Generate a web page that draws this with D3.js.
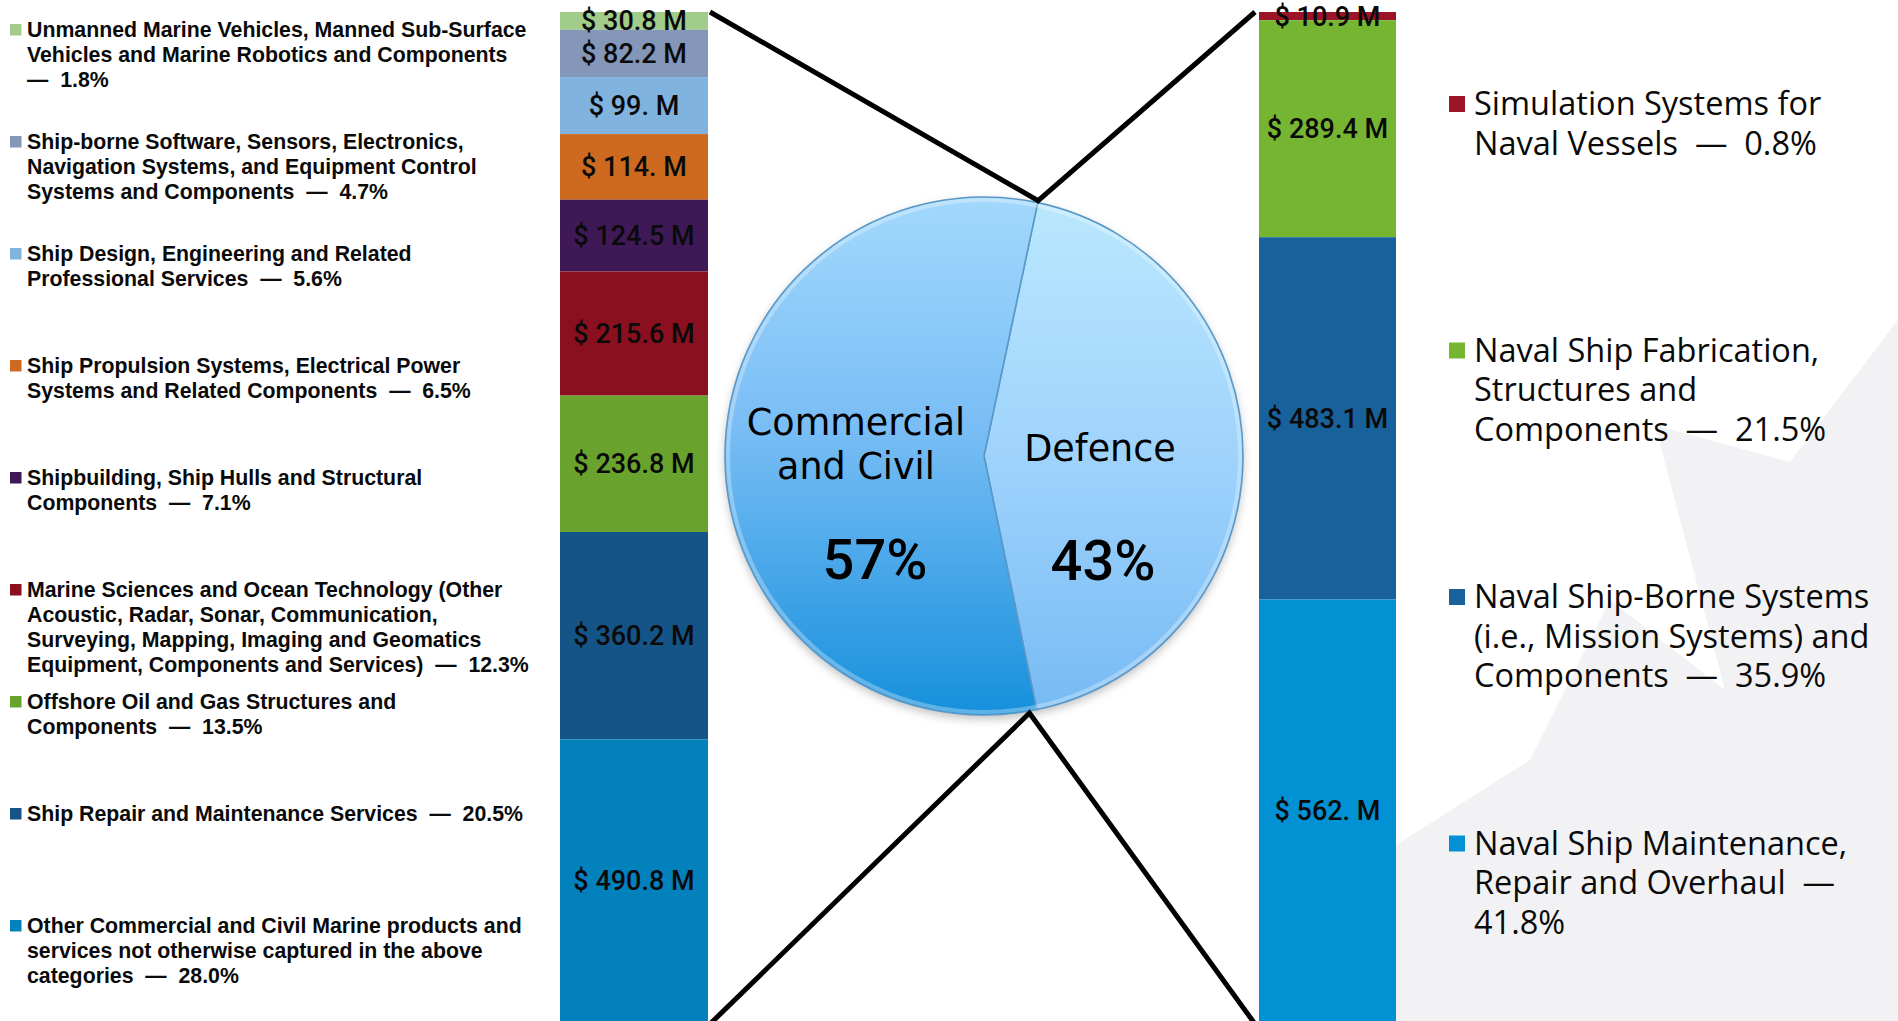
<!DOCTYPE html>
<html>
<head>
<meta charset="utf-8">
<script src="https://cdn.jsdelivr.net/npm/d3@7"></script>
<style>
  html, body { margin: 0; padding: 0; background: #ffffff; }
  svg { display: block; }
  text { white-space: pre; }
</style>
</head>
<body>
<svg id="chart" width="1898" height="1021"></svg>
<script>
// ---------------- DATA ----------------
const leftCategories = [
  ["Unmanned Marine Vehicles, Manned Sub-Surface", "Vehicles and Marine Robotics and Components", "—  {p}"],
  ["Ship-borne Software, Sensors, Electronics,", "Navigation Systems, and Equipment Control", "Systems and Components  —  {p}"],
  ["Ship Design, Engineering and Related", "Professional Services  —  {p}"],
  ["Ship Propulsion Systems, Electrical Power", "Systems and Related Components  —  {p}"],
  ["Shipbuilding, Ship Hulls and Structural", "Components  —  {p}"],
  ["Marine Sciences and Ocean Technology (Other", "Acoustic, Radar, Sonar, Communication,", "Surveying, Mapping, Imaging and Geomatics", "Equipment, Components and Services)  —  {p}"],
  ["Offshore Oil and Gas Structures and", "Components  —  {p}"],
  ["Ship Repair and Maintenance Services  —  {p}"],
  ["Other Commercial and Civil Marine products and", "services not otherwise captured in the above", "categories  —  {p}"]
];
const leftValues = [30.8, 82.2, 99.0, 114.0, 124.5, 215.6, 236.8, 360.2, 490.8];
const leftColors = ["#a2cc89", "#8497b8", "#80b3de", "#cd6a1f", "#3e1956", "#8a1020", "#69a32d", "#155487", "#0281bc"];

const rightCategories = [
  ["Simulation Systems for", "Naval Vessels  —  {p}"],
  ["Naval Ship Fabrication,", "Structures and", "Components  —  {p}"],
  ["Naval Ship-Borne Systems", "(i.e., Mission Systems) and", "Components  —  {p}"],
  ["Naval Ship Maintenance,", "Repair and Overhaul  —", "{p}"]
];
const rightValues = [10.9, 289.4, 483.1, 562.0];
const rightColors = ["#9b1428", "#76b531", "#19619a", "#0291d3"];

const pieNames = ["Defence", "Commercial and Civil"];

// ---------------- SETUP ----------------
const svg = d3.select("#chart");
const W = 1898, H = 1021;

const pct1 = d3.format(".1%");
const pct0 = d3.format(".0%");
const money = v => "$ " + d3.format(".1f")(v).replace(/\.0$/, ".") + " M";

const sumLeft = d3.sum(leftValues);
const sumRight = d3.sum(rightValues);

// background watermark panel (right side)
const defs = svg.append("defs");
svg.append("rect").attr("x", 1396).attr("y", 0).attr("width", W - 1396).attr("height", H).attr("fill", "#f2f2f5");
svg.append("polygon")
  .attr("points", [[1396,0],[1898,0],[1898,320],[1790,462],[1655,425],[1725,690],[1610,600],[1530,760],[1396,845]].map(p => p.join(",")).join(" "))
  .attr("fill", "#ffffff");

// ---------------- BARS ----------------
const xBand = d3.scaleOrdinal().domain(["left", "right"]).range([[560, 708], [1259, 1396]]);
const yLeft = d3.scaleLinear().domain([0, sumLeft]).range([12, 1022]);
const yRight = d3.scaleLinear().domain([0, sumRight]).range([12, 1021]);

function drawBar(values, colors, yScale, key) {
  const [x0, x1] = xBand(key);
  const ends = Array.from(d3.cumsum(values));
  const segs = values.map((v, i) => ({ v, i, a: ends[i] - v, b: ends[i], c: colors[i] }));
  const g = svg.append("g");
  g.selectAll("rect").data(segs).join("rect")
    .attr("x", x0).attr("width", x1 - x0)
    .attr("y", d => yScale(d.a))
    .attr("height", d => yScale(d.b) - yScale(d.a))
    .attr("fill", d => d.c);
  g.selectAll("text").data(segs).join("text")
    .attr("x", (x0 + x1) / 2)
    .attr("y", d => (yScale(d.a) + yScale(d.b)) / 2 + 9.5)
    .attr("text-anchor", "middle")
    .attr("font-family", "Roboto, 'Liberation Sans', sans-serif")
    .attr("font-weight", 500)
    .attr("font-size", 27)
    .attr("fill", "#0a0a0a")
    .text(d => money(d.v));
}

// ---------------- PIE ----------------
const cx = 984, cy = 456, R = 259;
const a0 = 0.209;
const pie = d3.pie().sort(null).startAngle(a0).endAngle(a0 + 2 * Math.PI);
const pieData = pie([sumRight, sumLeft]);
const arc = d3.arc().innerRadius(0).outerRadius(R);

const gradC = defs.append("linearGradient").attr("id", "gC").attr("gradientUnits", "userSpaceOnUse")
  .attr("x1", 0).attr("y1", -R).attr("x2", 0).attr("y2", R);
gradC.append("stop").attr("offset", "0%").attr("stop-color", "#a3d8fc");
gradC.append("stop").attr("offset", "45%").attr("stop-color", "#78bdf5");
gradC.append("stop").attr("offset", "100%").attr("stop-color", "#1690dc");
const gradD = defs.append("linearGradient").attr("id", "gD").attr("gradientUnits", "userSpaceOnUse")
  .attr("x1", 0).attr("y1", -R).attr("x2", 0).attr("y2", R);
gradD.append("stop").attr("offset", "0%").attr("stop-color", "#bae8fd");
gradD.append("stop").attr("offset", "50%").attr("stop-color", "#9fd3fc");
gradD.append("stop").attr("offset", "100%").attr("stop-color", "#76baf3");
const shadow = defs.append("filter").attr("id", "sh").attr("x", "-20%").attr("y", "-20%").attr("width", "140%").attr("height", "140%");
shadow.append("feDropShadow").attr("dx", 0).attr("dy", 4).attr("stdDeviation", 5).attr("flood-color", "#000").attr("flood-opacity", 0.25);

const gPie = svg.append("g").attr("transform", `translate(${cx},${cy})`);
gPie.append("circle").attr("r", R).attr("fill", "#6fb3ea").attr("filter", "url(#sh)");
gPie.selectAll("path").data(pieData).join("path")
  .attr("d", arc)
  .attr("fill", (d, i) => i === 0 ? "url(#gD)" : "url(#gC)")
  .attr("stroke", "#5a98c8")
  .attr("stroke-width", 1.6)
  .attr("stroke-linejoin", "round");
// rim highlight
gPie.append("circle").attr("r", R - 3).attr("fill", "none").attr("stroke", "#ffffff").attr("stroke-opacity", 0.3).attr("stroke-width", 4);

// pie labels
const pieFont = "'DejaVu Sans', 'Open Sans', sans-serif";
svg.append("text").attr("x", 856).attr("y", 435).attr("text-anchor", "middle")
  .attr("font-family", pieFont).attr("font-size", 36.5).attr("fill", "#000").text("Commercial");
svg.append("text").attr("x", 856).attr("y", 479).attr("text-anchor", "middle")
  .attr("font-family", pieFont).attr("font-size", 36.5).attr("fill", "#000").text("and Civil");
svg.append("text").attr("x", 1100).attr("y", 461).attr("text-anchor", "middle")
  .attr("font-family", pieFont).attr("font-size", 36.5).attr("fill", "#000").text(pieNames[0]);
const pctFont = "Roboto, 'Liberation Sans', sans-serif";
svg.append("text").attr("x", 875).attr("y", 579).attr("text-anchor", "middle")
  .attr("font-family", pctFont).attr("font-weight", 500).attr("font-size", 56).attr("fill", "#000")
  .text(pct0(pieData[1].value / (sumLeft + sumRight)));
svg.append("text").attr("x", 1103).attr("y", 580).attr("text-anchor", "middle")
  .attr("font-family", pctFont).attr("font-weight", 500).attr("font-size", 56).attr("fill", "#000")
  .text(pct0(pieData[0].value / (sumLeft + sumRight)));

// bars drawn
drawBar(leftValues, leftColors, yLeft, "left");
drawBar(rightValues, rightColors, yRight, "right");

// ---------------- CONNECTOR LINES ----------------
const pt = (ang, r) => [cx + r * Math.sin(ang), cy - r * Math.cos(ang)];
const topApex = pt(pieData[0].startAngle, R + 2);
const botApex = pt(pieData[0].endAngle + 0.03, R + 2);
const line = d3.line();
svg.append("path")
  .attr("d", line([[xBand("left")[1] + 2, yLeft(0)], topApex, [xBand("right")[0] - 4, yRight(0)]]))
  .attr("fill", "none").attr("stroke", "#000").attr("stroke-width", 5).attr("stroke-linejoin", "miter");
svg.append("path")
  .attr("d", line([[xBand("left")[1] + 2, yLeft(sumLeft) + 2], botApex, [xBand("right")[0] - 4, yRight(sumRight) + 3]]))
  .attr("fill", "none").attr("stroke", "#000").attr("stroke-width", 5).attr("stroke-linejoin", "miter");

// ---------------- LEGENDS ----------------
function drawLegend(cats, values, colors, total, opt) {
  const g = svg.append("g");
  cats.forEach((lines, i) => {
    const base = opt.y0 + i * opt.step;
    g.append("rect").attr("x", opt.sx).attr("y", base - opt.sOff).attr("width", opt.ss).attr("height", opt.ss).attr("fill", colors[i]);
    const p = pct1(values[i] / total);
    const t = g.append("text")
      .attr("font-family", opt.font).attr("font-weight", opt.weight)
      .attr("font-size", opt.size).attr("fill", "#0a0a0a");
    lines.forEach((ln, j) => {
      t.append("tspan").attr("x", opt.tx).attr("y", base + j * opt.lh).text(ln.replace("{p}", p));
    });
  });
}
drawLegend(leftCategories, leftValues, leftColors, sumLeft, {
  y0: 36.5, step: 112, lh: 25, sx: 10, ss: 11.5, sOff: 12.5, tx: 27,
  font: "'Liberation Sans', Arial, sans-serif", weight: "bold", size: 21.3
});
drawLegend(rightCategories, rightValues, rightColors, sumRight, {
  y0: 115, step: 246.5, lh: 39.5, sx: 1449, ss: 16, sOff: 19, tx: 1474,
  font: "'Open Sans', sans-serif", weight: 500, size: 32.5
});
</script>
</body>
</html>
